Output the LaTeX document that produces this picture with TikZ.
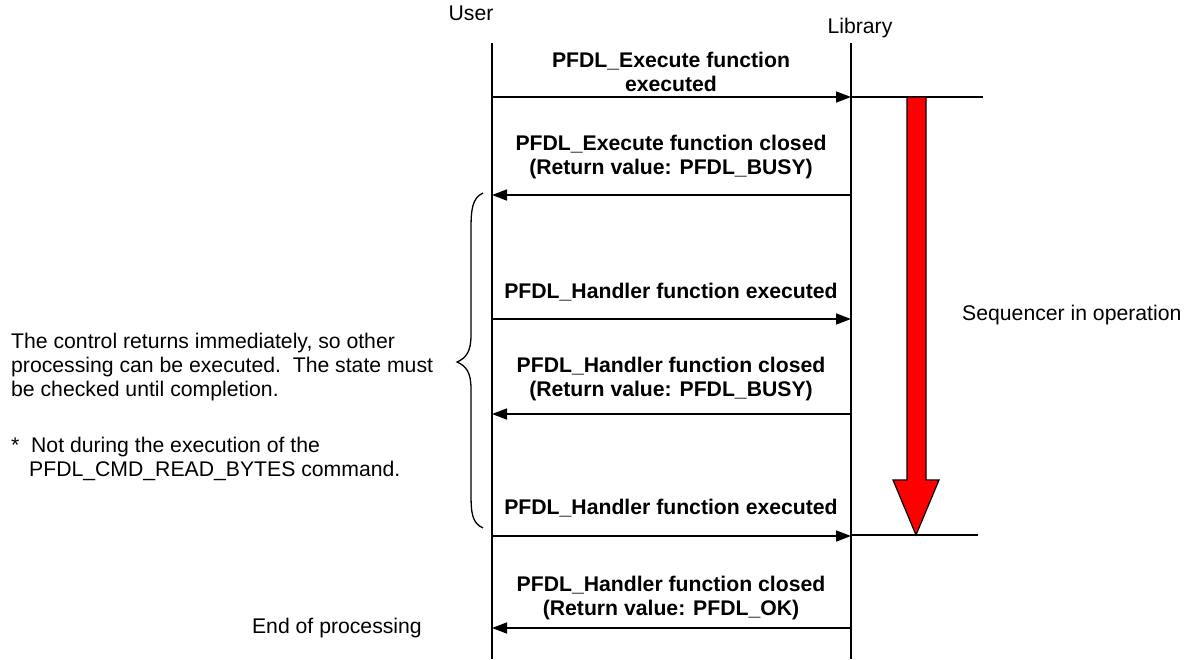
\documentclass[tikz,border=0pt]{standalone}
\usepackage{fontspec}
\setmainfont{Liberation Sans}
\usetikzlibrary{arrows.meta}
\begin{document}
\begin{tikzpicture}[x=1pt,y=-1pt,
  txt/.style={font=\fontsize{21.2}{24}\selectfont, inner sep=0pt},
  msg/.style={txt, font=\fontsize{21.2}{24}\selectfont\bfseries, align=center},
  life/.style={line width=1.5pt},
  call/.style={line width=1.5pt, -{Triangle[length=15pt,width=11pt]}},
  seqline/.style={line width=1.5pt}]
\useasboundingbox (0,0) rectangle (1186,659);
% headers
\node[txt] (user) at (471,13) {User};
\node[txt] (lib) at (860,28) {Library};
% lifelines
\coordinate (ut) at (492,43); \coordinate (ub) at (492,659);
\coordinate (lt) at (851,43); \coordinate (lb) at (851,659);
\draw[life] (ut) -- (ub);
\draw[life] (lt) -- (lb);
% message points
\foreach \n/\y in {1/97,2/195,3/319,4/414,5/536,6/628}{
  \coordinate (u\n) at (492,\y);
  \coordinate (l\n) at (851,\y);
}
\draw[call] (u1) -- (l1);
\draw[call] (l2) -- (u2);
\draw[call] (u3) -- (l3);
\draw[call] (l4) -- (u4);
\draw[call] (u5) -- (l5);
\draw[call] (l6) -- (u6);
% labels
\node[msg] (m1) at (671,71.5) {PFDL\_Execute function\\executed};
\node[msg] (m2) at (671,157.5) {PFDL\_Execute function closed\\(Return value: PFDL\_BUSY)};
\node[msg] (m3) at (671,292) {PFDL\_Handler function executed};
\node[msg] (m4) at (671,379.5) {PFDL\_Handler function closed\\(Return value: PFDL\_BUSY)};
\node[msg] (m5) at (671,508) {PFDL\_Handler function executed};
\node[msg] (m6) at (671,598.5) {PFDL\_Handler function closed\\(Return value: PFDL\_OK)};
% sequencer markers
\coordinate (s1) at (983,97);
\coordinate (s0) at (851,535);
\coordinate (s2) at (978,535);
\draw[seqline] (l1) -- (s1);
\draw[seqline] (s0) -- (s2);
\draw[line width=1.2pt, fill=red, line join=miter]
  (907,97) -- (926,97) -- (926,480) -- (939,480) -- (916,535) -- (893,480) -- (907,480) -- cycle;
\node[txt, anchor=west] (seq) at (962,315) {Sequencer in operation};
% brace
\draw[line width=1.3pt] (483,193) .. controls (472,198) and (471,210) .. (471,230)
  -- (471,335) .. controls (471,352) and (466,358) .. (457,362)
  .. controls (466,366) and (471,372) .. (471,389)
  -- (471,493) .. controls (471,513) and (472,523) .. (483,528);
% left texts
\node[txt, anchor=west, align=left] (ctl) at (11,367.5)
  {The control returns immediately, so other\\processing can be executed.\ \ The state must\\be checked until completion.};
\node[txt, anchor=west, align=left] (note) at (11,459)
  {\makebox[20pt][l]{*}Not during the execution of the\\\hspace{18pt}PFDL\_CMD\_READ\_BYTES command.};
\node[txt, anchor=east] (end) at (422,628) {End of processing};
\end{tikzpicture}
\end{document}
